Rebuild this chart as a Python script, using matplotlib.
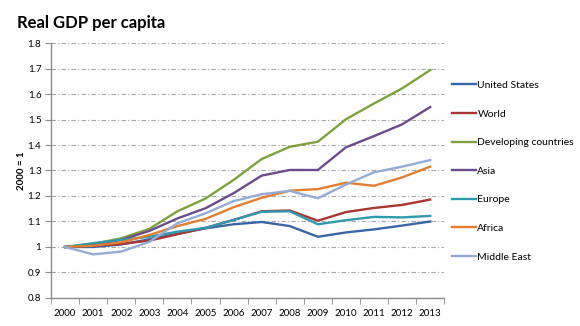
import numpy as np
import matplotlib.pyplot as plt

years = list(range(2000, 2014))

united_states = [1.000, 1.000, 1.010, 1.030, 1.052, 1.073, 1.089, 1.098, 1.082, 1.040, 1.057, 1.069, 1.084, 1.100]
world = [1.000, 1.005, 1.012, 1.025, 1.050, 1.075, 1.106, 1.140, 1.143, 1.103, 1.137, 1.153, 1.165, 1.186]
developing = [1.000, 1.012, 1.034, 1.071, 1.140, 1.190, 1.263, 1.345, 1.393, 1.413, 1.501, 1.563, 1.622, 1.694]
asia = [1.000, 1.008, 1.028, 1.063, 1.112, 1.152, 1.211, 1.280, 1.302, 1.302, 1.391, 1.435, 1.481, 1.549]
europe = [1.000, 1.015, 1.028, 1.040, 1.060, 1.075, 1.106, 1.138, 1.140, 1.089, 1.105, 1.118, 1.116, 1.122]
africa = [1.000, 1.005, 1.018, 1.047, 1.082, 1.110, 1.156, 1.193, 1.221, 1.227, 1.252, 1.240, 1.273, 1.315]
middle_east = [1.000, 0.971, 0.982, 1.020, 1.093, 1.132, 1.180, 1.207, 1.220, 1.191, 1.245, 1.293, 1.315, 1.341]

series = [
    ("United States", united_states, "#3866A6"),
    ("World", world, "#A83632"),
    ("Developing countries", developing, "#7FA13E"),
    ("Asia", asia, "#6A4C8C"),
    ("Europe", europe, "#3099B0"),
    ("Africa", africa, "#E57D2E"),
    ("Middle East", middle_east, "#93ABD6"),
]

plt.rcParams["font.family"] = ["Lato", "DejaVu Sans"]

fig = plt.figure(figsize=(5.8, 3.26), dpi=100)
ax = fig.add_axes([0.088, 0.086, 0.678, 0.782])

x = np.arange(len(years))
for name, vals, col in series:
    ax.plot(x, vals, color=col, lw=1.7, label=name, solid_joinstyle="miter")

ax.set_xlim(-0.5, len(years) - 0.5)
ax.set_ylim(0.8, 1.8)
ax.set_yticks(np.arange(0.8, 1.81, 0.1))
ax.set_yticklabels(["0.8", "0.9", "1", "1.1", "1.2", "1.3", "1.4", "1.5", "1.6", "1.7", "1.8"])
ax.set_xticks(x)
ax.set_xticklabels([str(y) for y in years])
# tick marks sit between the year categories
ax.set_xticks(np.arange(-0.5, len(years)), minor=True)
ax.tick_params(axis="x", which="major", length=0, pad=8, labelsize=7)
ax.tick_params(axis="x", which="minor", length=4, color="#8c8c8c")
ax.tick_params(axis="y", length=4, color="#8c8c8c", labelsize=7, pad=3)

ax.grid(axis="y", color="#a6a6a6", linestyle=(0, (4, 2, 1, 2)), linewidth=0.8)
ax.set_axisbelow(True)
for s in ["top", "right"]:
    ax.spines[s].set_visible(False)
for s in ["left", "bottom"]:
    ax.spines[s].set_color("#8c8c8c")
    ax.spines[s].set_linewidth(1.0)

ax.set_ylabel("2000 = 1", fontsize=7, fontweight="bold", labelpad=1)

fig.text(0.029, 0.93, "Real GDP per capita", fontsize=12, fontweight="bold", va="center")

ax.legend(loc="upper left", bbox_to_anchor=(1.01, 0.868), frameon=False, fontsize=7.5,
          handlelength=2.3, handletextpad=0.1, labelspacing=1.85, borderaxespad=0)

fig.savefig("out.png", dpi=100)
